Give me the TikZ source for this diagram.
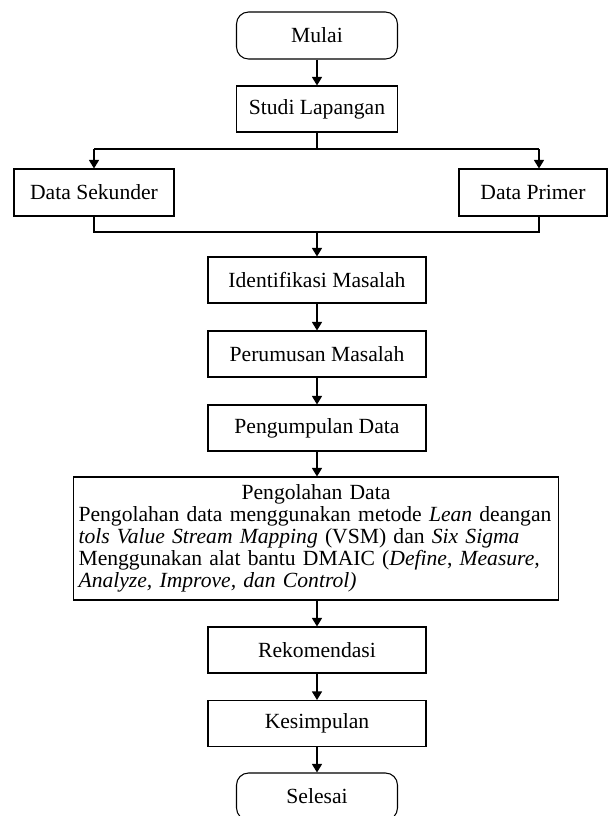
\documentclass[tikz,border=0pt]{standalone}
\usepackage{fontspec}
\setmainfont{Liberation Serif}
\usetikzlibrary{arrows.meta}

\begin{document}
\begin{tikzpicture}[x=0.02cm, y=-0.02cm, line width=0.6pt,
    every node/.style={font=\fontsize{12.3}{12.6}\selectfont},
    kotak/.style={draw, minimum width=3.22cm, minimum height=0.92cm, inner sep=2pt},
    lebar/.style={kotak, minimum width=4.36cm},
    ujung/.style={kotak, rounded corners=0.24cm, minimum height=0.94cm},
    panah/.style={-{Triangle[length=0.17cm,width=0.2cm]}}]
    \useasboundingbox (0,0) rectangle (608,816);

    \node [ujung] (mulai) at (317,35.5) {Mulai};
    \node [kotak] (studi) at (317,109) {Studi Lapangan};
    \node [kotak, minimum width=3.2cm, minimum height=0.94cm] (sekunder) at (94,192.5) {Data Sekunder};
    \node [kotak, minimum width=2.96cm, minimum height=0.94cm] (primer) at (533,192.5) {Data Primer};
    \node [lebar] (identifikasi) at (317,280) {Identifikasi Masalah};
    \node [lebar] (perumusan) at (317,354) {Perumusan Masalah};
    \node [lebar] (pengumpulan) at (317,428) {Pengumpulan Data};
    \node [draw, minimum width=9.72cm, minimum height=2.46cm, text width=9.5cm, align=left, inner sep=3pt] (pengolahan) at (316,538.5)
        {{\centering Pengolahan Data\par}
        Pengolahan data menggunakan metode \textit{Lean} deangan\\
        \textit{tols Value Stream Mapping} (VSM) dan \textit{Six Sigma}\\
        Menggunakan alat bantu DMAIC (\textit{Define}, \textit{Measure,}\\
        \textit{Analyze, Improve, dan Control)}};
    \node [lebar] (rekomendasi) at (317,650) {Rekomendasi};
    \node [lebar] (kesimpulan) at (317,723.5) {Kesimpulan};
    \node [ujung] (selesai) at (317,796.5) {Selesai};

    \coordinate (pisah) at (317,149);
    \coordinate (kiri) at (94,149);
    \coordinate (kanan) at (539,149);
    \coordinate (gabung) at (317,232);

    \draw [panah] (mulai) -- (studi);
    \draw (studi) -- (pisah);
    \draw (kiri) -- (kanan);
    \draw [panah] (kiri) -- (sekunder);
    \draw [panah] (kanan) -- (kanan |- primer.north);
    \draw (sekunder) -- (sekunder |- gabung) -- (kanan |- gabung) -- (kanan |- primer.south);
    \draw [panah] (gabung) -- (identifikasi);
    \draw [panah] (identifikasi) -- (perumusan);
    \draw [panah] (perumusan) -- (pengumpulan);
    \draw [panah] (pengumpulan) -- (pengumpulan |- pengolahan.north);
    \draw [panah] (pengolahan.south -| rekomendasi) -- (rekomendasi);
    \draw [panah] (rekomendasi) -- (kesimpulan);
    \draw [panah] (kesimpulan) -- (selesai);

\end{tikzpicture}
\end{document}
